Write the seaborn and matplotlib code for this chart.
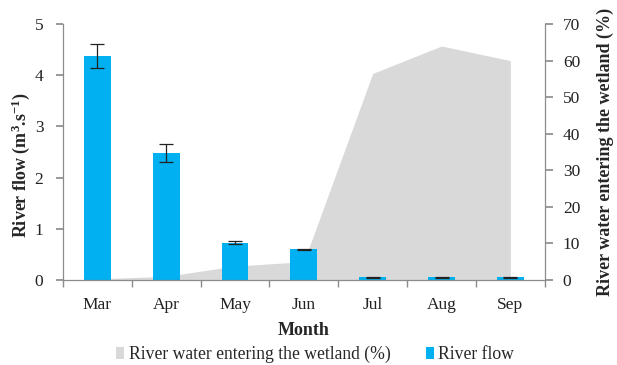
import numpy as np
import matplotlib
matplotlib.use("Agg")
import matplotlib.pyplot as plt
import seaborn as sns
from matplotlib.patches import Patch

months = ["Mar", "Apr", "May", "Jun", "Jul", "Aug", "Sep"]
river_flow = [4.38, 2.48, 0.73, 0.60, 0.05, 0.05, 0.05]
flow_err = [0.23, 0.17, 0.03, 0.005, 0.01, 0.01, 0.01]
wetland_pct = [0.3, 1.0, 3.8, 5.0, 56.5, 64.0, 60.0]

blue = "#00B0F0"
grey = "#D9D9D9"
axis_grey = "#8C8C8C"
tick_fs = 12.5
label_fs = 13

sns.set_theme(style="white")
plt.rcParams["font.family"] = ["Liberation Serif", "DejaVu Serif"]
plt.rcParams["mathtext.fontset"] = "custom"
plt.rcParams["mathtext.rm"] = "Liberation Serif"
plt.rcParams["mathtext.bf"] = "Liberation Serif:bold"
plt.rcParams["mathtext.default"] = "bf"

fig = plt.figure(figsize=(6.17, 3.65), dpi=100)
ax = fig.add_axes([0.102, 0.233, 0.781, 0.701])
ax2 = ax.twinx()

# wetland share as a grey area on the secondary axis
x = np.arange(len(months))
ax2.fill_between(x, wetland_pct, 0, color=grey, linewidth=0)
ax2.set_ylim(0, 70)
ax2.set_yticks(range(0, 71, 10))

# river flow bars with error bars on the primary axis
df_flow = {"month": months, "flow": river_flow}
sns.barplot(data=df_flow, x="month", y="flow", color=blue, width=0.39,
            saturation=1, errorbar=None, linewidth=0, edgecolor=blue, ax=ax)
ax.errorbar(x, river_flow, yerr=flow_err, fmt="none", ecolor="#222222",
            elinewidth=0.9, capsize=5, capthick=0.9)

ax.set_zorder(ax2.get_zorder() + 1)
ax.patch.set_visible(False)

ax.set_xlim(-0.5, len(months) - 0.5)
ax.set_ylim(0, 5)
ax.set_yticks(range(0, 6))

ax.set_xlabel("Month", fontsize=label_fs, fontweight="bold", labelpad=7)
ax.set_ylabel("River flow (m$^{3}$.s$^{-1}$)", fontsize=label_fs, fontweight="bold")
ax.yaxis.set_label_coords(-0.064, 0.45)
ax2.set_ylabel("River water entering the wetland (%)", fontsize=label_fs,
               fontweight="bold", labelpad=12)

# category boundary ticks on x
ax.set_xticks(x)
ax.set_xticklabels(months)
ax.set_xticks(np.arange(-0.5, len(months) + 0.5, 1), minor=True)
ax.tick_params(axis="x", which="major", length=0, labelsize=tick_fs, pad=12, colors="#222222")
ax.tick_params(axis="x", which="minor", length=5, direction="out", color=axis_grey, bottom=True)
ax.tick_params(axis="y", length=5, direction="out", color=axis_grey, labelsize=tick_fs,
               labelcolor="#222222", left=True, pad=9)
ax2.tick_params(axis="y", length=6, direction="out", color=axis_grey, labelsize=tick_fs,
                labelcolor="#222222", right=True, pad=7)

for a in (ax, ax2):
    a.spines["top"].set_visible(False)
    for side in ("left", "right", "bottom"):
        a.spines[side].set_color(axis_grey)
        a.spines[side].set_linewidth(0.9)
ax.spines["right"].set_visible(False)
ax2.spines["left"].set_visible(False)
ax2.spines["bottom"].set_visible(False)

handles = [Patch(facecolor=grey, edgecolor="none", label="River water entering the wetland (%)"),
           Patch(facecolor=blue, edgecolor="none", label="River flow")]
fig.legend(handles=handles, loc="center", bbox_to_anchor=(0.511, 0.028), ncol=2,
           frameon=False, fontsize=12.7, handlelength=0.45, handleheight=0.7,
           handletextpad=0.25, columnspacing=2.0)

fig.savefig("out.png", dpi=100)
